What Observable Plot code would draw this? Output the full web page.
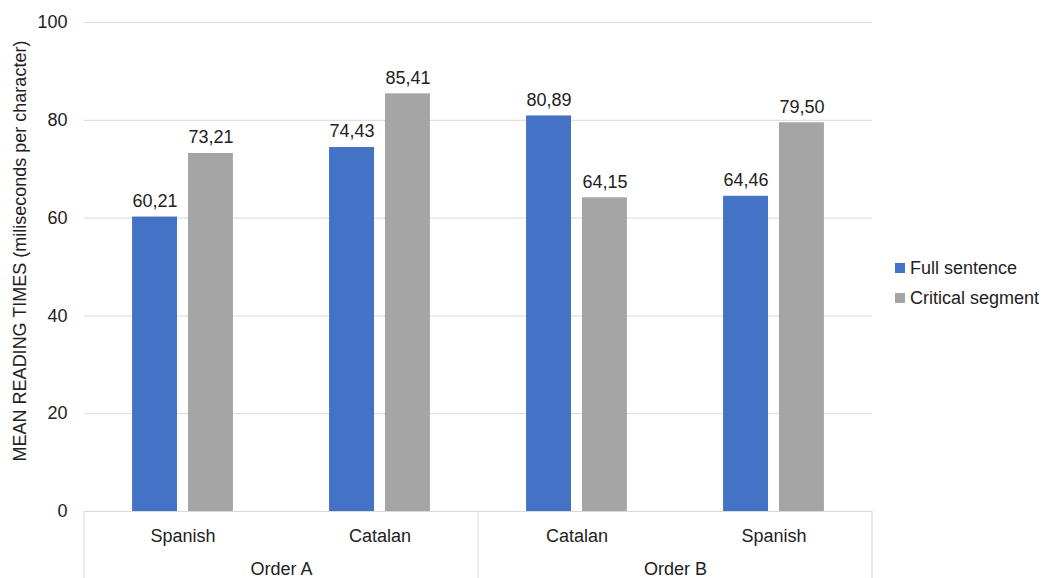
<!DOCTYPE html>
<html>
<head>
<meta charset="utf-8">
<script src="https://cdn.jsdelivr.net/npm/d3@7"></script>
<script src="https://cdn.jsdelivr.net/npm/@observablehq/plot@0.6"></script>
<style>
  html, body { margin: 0; padding: 0; background: #fff; }
  #wrap { position: relative; width: 1047px; height: 578px; overflow: hidden; font-family: "Liberation Sans", Arial, sans-serif; }
  #legend { position: absolute; left: 895px; top: 253px; }
  #legend > div { margin: 0 !important; min-height: 0 !important; }
  #legend .lg-swatch { height: 30px; margin: 0 !important; padding: 0 !important; display: flex; align-items: center; }
  #legend .lg-swatch svg { margin-right: 5px !important; }
</style>
</head>
<body>
<div id="wrap"><div id="chart"></div><div id="legend"></div></div>
<script>
const categories = ["Spanish", "Catalan", "Catalan", "Spanish"];
const orders = ["Order A", "Order A", "Order B", "Order B"];
const series = ["Full sentence", "Critical segment"];
const fullSentence = [60.21, 74.43, 80.89, 64.46];
const criticalSegment = [73.21, 85.41, 64.15, 79.50];
const yTicks = [0, 20, 40, 60, 80, 100];
const colors = ["#4472c4", "#a5a5a5"];
const yTitle = "MEAN READING TIMES (miliseconds per character)";

const keys = categories.map((c, i) => orders[i] + "|" + c);
const data = [];
keys.forEach((k, i) => {
  data.push({key: k, series: series[0], value: fullSentence[i]});
  data.push({key: k, series: series[1], value: criticalSegment[i]});
});
const catLabels = keys.map((k, i) => ({key: k, label: categories[i]}));
// Order label placed at the left edge of the second category of each order (group centre)
const orderNames = [...new Set(orders)];
const orderLabels = orderNames.map(o => {
  const ks = keys.filter((k, i) => orders[i] === o);
  return {key: ks[1], label: o};
});
const fmt = v => v.toFixed(2).replace(".", ",");
const font = "Liberation Sans, Arial, sans-serif";
const ink = "#222";

const chart = Plot.plot({
  width: 1047,
  height: 578,
  marginTop: 22,
  marginBottom: 67,
  marginLeft: 83,
  marginRight: 175,
  style: {fontFamily: font, fontSize: "18px", color: ink, background: "#fff", overflow: "visible"},
  fx: {domain: keys, padding: 0, axis: null},
  x: {domain: series, paddingInner: 0.196, paddingOuter: 0.86, round: false, axis: null},
  y: {domain: [0, 100], axis: null},
  color: {domain: series, range: colors},
  marks: [
    Plot.gridY(yTicks, {stroke: "#d9d9d9", strokeOpacity: 1, strokeWidth: 1}),
    Plot.axisY({ticks: yTicks, tickSize: 0, tickPadding: 17, fontSize: 18, fill: ink, label: null}),
    Plot.text([{key: keys[0]}], {fx: "key", text: () => yTitle, frameAnchor: "left", rotate: -90, lineAnchor: "middle", textAnchor: "middle", dx: -64, dy: -16, fontSize: 18, fill: ink}),
    Plot.barY(data, {fx: "key", x: "series", y: "value", fill: "series"}),
    Plot.text(data, {fx: "key", x: "series", y: "value", text: d => fmt(d.value), dy: -16, fontSize: 18, fill: ink}),
    Plot.text(catLabels, {fx: "key", text: "label", frameAnchor: "bottom", lineAnchor: "middle", dy: 25, fontSize: 18, fill: ink}),
    Plot.text(orderLabels, {fx: "key", text: "label", frameAnchor: "bottom-left", lineAnchor: "middle", textAnchor: "middle", dy: 58, fontSize: 18, fill: ink})
  ]
});
document.getElementById("chart").appendChild(chart);

// group separators of the category table, placed through the fx / y scales
const fx = chart.scale("fx");
const y = chart.scale("y");
const y0 = y.apply(0);
const groupEdges = [];
orderNames.forEach(o => {
  const ks = keys.filter((k, i) => orders[i] === o);
  groupEdges.push(fx.apply(ks[0]));
});
groupEdges.push(fx.apply(keys[keys.length - 1]) + fx.bandwidth);
const g = d3.select(chart).append("g").attr("stroke", "#d9d9d9").attr("stroke-width", 1);
groupEdges.forEach(x => {
  g.append("line").attr("x1", x).attr("x2", x).attr("y1", y0).attr("y2", 578);
});

const legend = Plot.legend({
  color: {domain: series, range: colors},
  legend: "swatches",
  columns: 1,
  swatchSize: 10,
  className: "lg",
  style: {fontSize: "18px", fontFamily: font, color: ink}
});
document.getElementById("legend").appendChild(legend);
</script>
</body>
</html>
